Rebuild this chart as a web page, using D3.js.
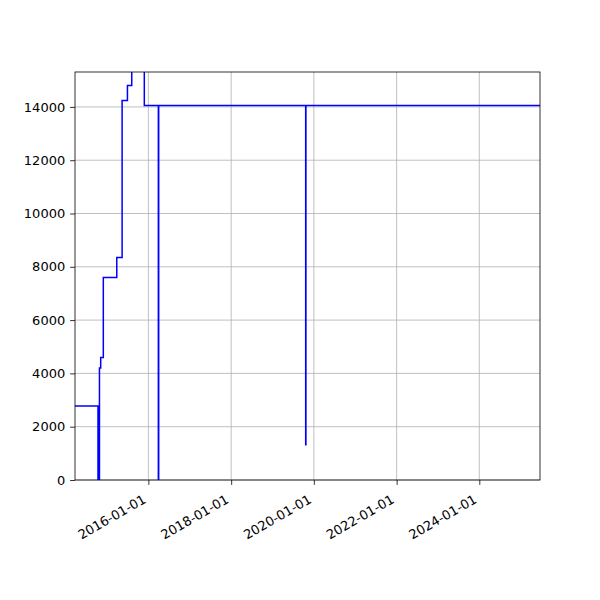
<!DOCTYPE html>
<html>
<head>
<meta charset="utf-8">
<script src="https://cdn.jsdelivr.net/npm/d3@7"></script>
<style>
  body { margin: 0; background: #fff; }
  text { font-family: "DejaVu Sans", sans-serif; }
</style>
</head>
<body>
<div id="chart"></div>
<script>
// step series
var dates = [
	"2014-03-24", "2014-10-13", "2014-10-26", "2014-11-06", "2014-11-29",
	"2015-03-28", "2015-05-14", "2015-06-30", "2015-08-07", "2015-11-26",
	"2016-03-29", "2016-04-01", "2019-10-21", "2019-10-23", "2025-06-20"
];
var values = [
	2780, 0, 4200, 4600, 7600,
	8350, 14240, 14800, 16500, 14050,
	0, 14050, 1320, 14050, 14050
];
var xTicks = ["2016-01-01", "2018-01-01", "2020-01-01", "2022-01-01", "2024-01-01"];
var yTicks = [0, 2000, 4000, 6000, 8000, 10000, 12000, 14000];

var parse = d3.utcParse("%Y-%m-%d");
var data = dates.map(function (d, i) { return {t: parse(d), v: values[i]}; });

var mLeft = 75, mRight = 540, mTop = 72, mBottom = 480;

var x = d3.scaleUtc()
	.domain([parse("2014-03-24"), parse("2025-06-20")])
	.range([mLeft, mRight]);

var y = d3.scaleLinear()
	.domain([0, 15310])
	.range([mBottom, mTop]);

var svg = d3.select("#chart")
	.append("svg")
	.attr("width", 600)
	.attr("height", 600);

svg.append("defs").append("clipPath")
	.attr("id", "clip")
	.append("rect")
	.attr("x", mLeft)
	.attr("y", mTop)
	.attr("width", mRight - mLeft)
	.attr("height", mBottom - mTop);

// grid
var grid = svg.append("g").attr("stroke", "#b0b0b0").attr("stroke-width", 0.8);
grid.selectAll(".gx").data(xTicks).enter().append("line")
	.attr("x1", function (d) { return x(parse(d)); })
	.attr("x2", function (d) { return x(parse(d)); })
	.attr("y1", mTop).attr("y2", mBottom);
grid.selectAll(".gy").data(yTicks).enter().append("line")
	.attr("x1", mLeft).attr("x2", mRight)
	.attr("y1", function (d) { return y(d); })
	.attr("y2", function (d) { return y(d); });

// line
var line = d3.line()
	.x(function (d) { return x(d.t); })
	.y(function (d) { return y(d.v); })
	.curve(d3.curveStepAfter);

svg.append("path")
	.datum(data)
	.attr("clip-path", "url(#clip)")
	.attr("fill", "none")
	.attr("stroke", "#0000ff")
	.attr("stroke-width", 1.5)
	.attr("d", line);

// axes
var yAxis = svg.append("g")
	.attr("transform", "translate(" + mLeft + ",0)")
	.call(d3.axisLeft(y).tickValues(yTicks).tickFormat(d3.format("d")).tickSize(4.9).tickPadding(4.9));

var xAxis = svg.append("g")
	.attr("transform", "translate(0," + mBottom + ")")
	.call(d3.axisBottom(x).tickValues(xTicks.map(parse)).tickFormat(d3.utcFormat("%Y-%m-%d")).tickSize(4.9));

[xAxis, yAxis].forEach(function (a) {
	a.select(".domain").remove();
	a.selectAll("line").attr("stroke", "#000").attr("stroke-width", 0.8);
	a.selectAll("text").attr("fill", "#000").style("font-size", "13px").style("font-family", "DejaVu Sans");
});

xAxis.selectAll("text")
	.attr("text-anchor", "end")
	.attr("dy", null)
	.attr("y", null)
	.attr("transform", "translate(-2,22) rotate(-30)");

// frame
svg.append("rect")
	.attr("x", mLeft).attr("y", mTop)
	.attr("width", mRight - mLeft).attr("height", mBottom - mTop)
	.attr("fill", "none")
	.attr("stroke", "#000")
	.attr("stroke-width", 0.8);
</script>
</body>
</html>
